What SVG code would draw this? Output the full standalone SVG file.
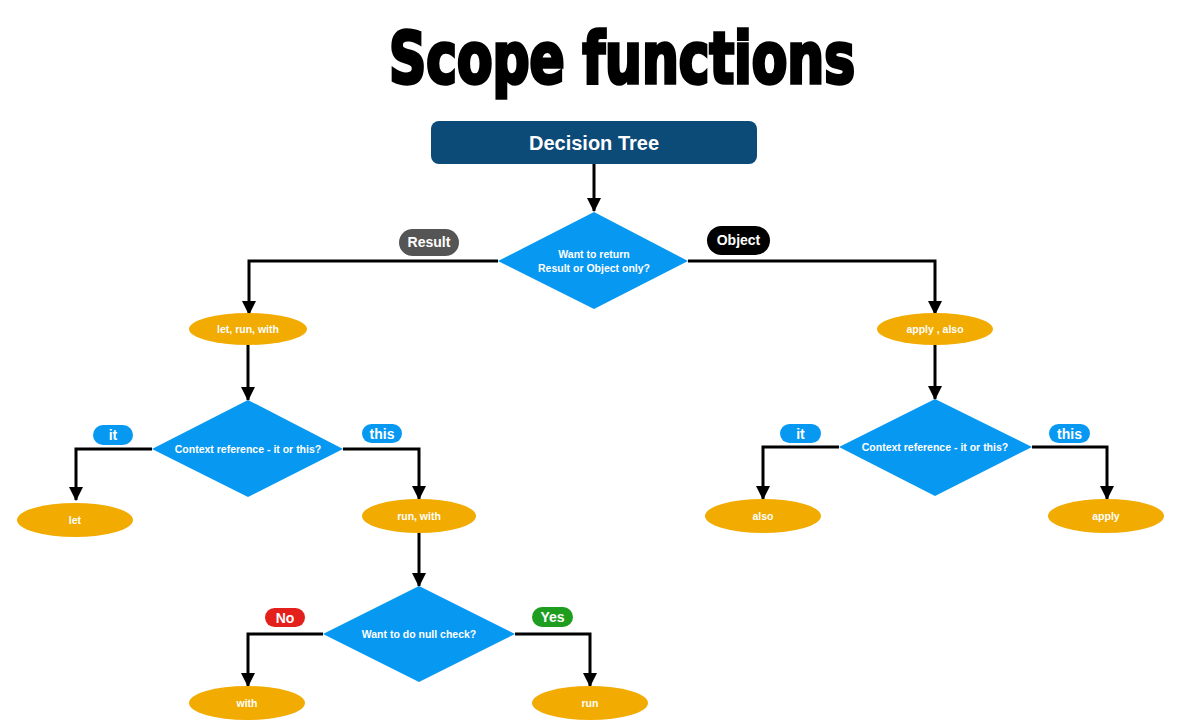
<svg xmlns="http://www.w3.org/2000/svg" width="1180" height="728" viewBox="0 0 1180 728">
<style>
.title{font-family:'Liberation Sans Narrow','DejaVu Sans Condensed','Liberation Sans',sans-serif;font-weight:bold;font-size:72px;fill:#000;stroke:#000;stroke-width:3.5px}
.t{font-family:'Liberation Sans','Helvetica',Arial,sans-serif;fill:#fff;text-anchor:middle;font-weight:bold}
.dia{fill:#0798f2}
.ell{fill:#f2ab00}
.conn{fill:none;stroke:#000;stroke-width:3}
.pill{font-size:14px}
.small{font-size:10.5px}
</style>
<defs>
<marker id="arr" markerUnits="userSpaceOnUse" markerWidth="16" markerHeight="14" refX="13" refY="7" orient="auto">
<path d="M0,0 L14,7 L0,14 Z" fill="#000"/>
</marker>
</defs>
<rect width="1180" height="728" fill="#fff"/>
<text class="title" x="622" y="83" text-anchor="middle" textLength="466" lengthAdjust="spacingAndGlyphs">Scope functions</text>

<g id="connectors">
<path class="conn" d="M594,164 V211" marker-end="url(#arr)"/>
<path class="conn" d="M498,261 H249 V314" marker-end="url(#arr)"/>
<path class="conn" d="M688,261 H935 V314" marker-end="url(#arr)"/>
<path class="conn" d="M248,345 V400" marker-end="url(#arr)"/>
<path class="conn" d="M935,345 V399" marker-end="url(#arr)"/>
<path class="conn" d="M152,449 H76 V500" marker-end="url(#arr)"/>
<path class="conn" d="M343,449 H419 V499" marker-end="url(#arr)"/>
<path class="conn" d="M419,533 V586" marker-end="url(#arr)"/>
<path class="conn" d="M839,447 H763 V499" marker-end="url(#arr)"/>
<path class="conn" d="M1032,447 H1107 V499" marker-end="url(#arr)"/>
<path class="conn" d="M323,634 H248 V686" marker-end="url(#arr)"/>
<path class="conn" d="M515,634 H590 V686" marker-end="url(#arr)"/>
</g>

<g id="decision-tree">
<rect x="431" y="121" width="326" height="43" rx="8" fill="#0c4a78"/>
<text class="t" x="594" y="150" font-size="20" style="font-weight:600">Decision Tree</text>
</g>

<g id="q-result-object">
<polygon class="dia" points="594,212 688,261 594,309 498,261"/>
<text class="t small" x="594" y="258">Want to return</text>
<text class="t small" x="594" y="272">Result or Object only?</text>
</g>
<g id="label-result">
<rect x="399" y="229" width="60" height="27" rx="13.5" fill="#555"/>
<text class="t pill" x="429" y="247">Result</text>
</g>
<g id="label-object">
<rect x="707" y="226" width="63" height="29" rx="14.5" fill="#000"/>
<text class="t pill" x="738.5" y="245">Object</text>
</g>

<g id="n-let-run-with">
<ellipse class="ell" cx="248" cy="329" rx="59" ry="16"/>
<text class="t small" x="248" y="333">let, run, with</text>
</g>
<g id="n-apply-also">
<ellipse class="ell" cx="935" cy="329" rx="58" ry="16"/>
<text class="t small" x="935" y="333">apply , also</text>
</g>

<g id="q-context-left">
<polygon class="dia" points="248,400 343,449 248,497 152,449"/>
<text class="t small" x="248" y="453">Context reference - it or this?</text>
</g>
<g id="label-it-left">
<rect x="93" y="425" width="40" height="20" rx="10" class="dia"/>
<text class="t pill" x="113" y="440">it</text>
</g>
<g id="label-this-left">
<rect x="362" y="424" width="40" height="19" rx="9.5" class="dia"/>
<text class="t pill" x="382" y="439">this</text>
</g>

<g id="q-context-right">
<polygon class="dia" points="935,399 1032,447 935,496 839,447"/>
<text class="t small" x="935" y="451">Context reference - it or this?</text>
</g>
<g id="label-it-right">
<rect x="780" y="424" width="41" height="19" rx="9.5" class="dia"/>
<text class="t pill" x="800.5" y="439">it</text>
</g>
<g id="label-this-right">
<rect x="1049" y="424" width="41" height="19" rx="9.5" class="dia"/>
<text class="t pill" x="1069.5" y="439">this</text>
</g>

<g id="n-let">
<ellipse class="ell" cx="75" cy="520" rx="58" ry="17"/>
<text class="t small" x="75" y="524">let</text>
</g>
<g id="n-run-with">
<ellipse class="ell" cx="419" cy="516" rx="57" ry="17"/>
<text class="t small" x="419" y="520">run, with</text>
</g>
<g id="n-also">
<ellipse class="ell" cx="763" cy="516" rx="58" ry="17"/>
<text class="t small" x="763" y="520">also</text>
</g>
<g id="n-apply">
<ellipse class="ell" cx="1106" cy="516" rx="58" ry="17"/>
<text class="t small" x="1106" y="520">apply</text>
</g>

<g id="q-null-check">
<polygon class="dia" points="419,586 515,634 419,682 323,634"/>
<text class="t small" x="419" y="638">Want to do null check?</text>
</g>
<g id="label-no">
<rect x="265" y="608" width="40" height="19" rx="9.5" fill="#e3201b"/>
<text class="t pill" x="285" y="623">No</text>
</g>
<g id="label-yes">
<rect x="532" y="607" width="41" height="20" rx="10" fill="#1f9d1f"/>
<text class="t pill" x="552.5" y="622">Yes</text>
</g>

<g id="n-with">
<ellipse class="ell" cx="247" cy="703" rx="58" ry="17"/>
<text class="t small" x="247" y="707">with</text>
</g>
<g id="n-run">
<ellipse class="ell" cx="590" cy="703" rx="58" ry="17"/>
<text class="t small" x="590" y="707">run</text>
</g>
</svg>
